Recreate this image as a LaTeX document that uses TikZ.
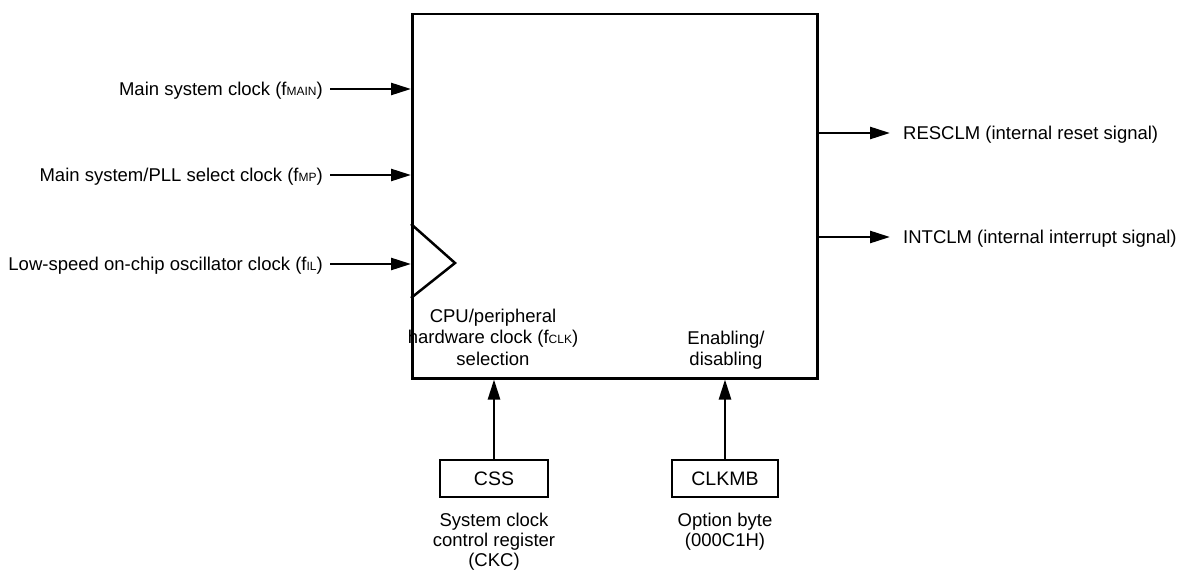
\documentclass[tikz,border=0pt]{standalone}
\usepackage{fontspec}
\setmainfont{Liberation Sans}
\usetikzlibrary{positioning,arrows.meta}
\newcommand{\sbs}[1]{{\fontsize{12}{12}\selectfont #1}}
\tikzset{
    every edge/.style={draw,-{Triangle[length=20pt,width=12pt]},line width=2.5pt},
    block/.style={draw,line width=2.5pt,minimum width=405pt,minimum height=364pt,inner sep=0pt},
    reg/.style={draw,line width=2.5pt,minimum height=37pt,inner sep=0pt,font=\fontsize{19.5}{21}\selectfont},
    sig/.style={inner ysep=0pt,text height=13pt,text depth=0pt,font=\fontsize{18.5}{21.5}\selectfont},
    note/.style={inner sep=0pt,align=center,font=\fontsize{18.5}{21.5}\selectfont},
}

\begin{document}
\begin{tikzpicture}[x=1pt,y=-1pt]
    \useasboundingbox (0,0) rectangle (1180,572);
    \node[block,anchor=north west] (clm) at (411,13) {};

    % inputs
    \node[sig,inner xsep=7pt,anchor=east] (fmain) at (330,89) {Main system clock (f\sbs{MAIN})};
    \node[sig,inner xsep=7pt,anchor=east] (fmp) at (330,175) {Main system/PLL select clock (f\sbs{MP})};
    \node[sig,inner xsep=7pt,anchor=east] (fil) at (330,264) {Low-speed on-chip oscillator clock (f\sbs{IL})};
    \draw[line width=2.5pt] (411,224) -- (455,263) -- (411,298);

    % outputs
    \node[sig,inner xsep=13pt,anchor=west] (rst) at (890,133) {RESCLM (internal reset signal)};
    \node[sig,inner xsep=13pt,anchor=west] (intp) at (890,237) {INTCLM (internal interrupt signal)};

    \node[note] (cksel) at (493,337) {CPU/peripheral\\hardware clock (f\sbs{CLK})\\selection};
    \node[note] (endis) at (726,350) {Enabling/\\disabling};

    % registers
    \node[reg,minimum width=108pt] (css) at (494,478.5) {CSS};
    \node[reg,minimum width=106pt] (clkmb) at (725,478.5) {CLKMB};
    \node[note,below=15pt of css,font=\fontsize{18.5}{20}\selectfont] (ckc) {System clock\\control register\\(CKC)};
    \node[note,below=15pt of clkmb,font=\fontsize{18.5}{20}\selectfont] (optb) {Option byte\\(000C1H)};

    \path
    (fmain) edge (fmain -| clm.west)
    (fmp) edge (fmp -| clm.west)
    (fil) edge (fil -| clm.west)
    (rst -| clm.east) edge (rst)
    (intp -| clm.east) edge (intp)
    (css) edge (css |- clm.south)
    (clkmb) edge (clkmb |- clm.south);
\end{tikzpicture}
\end{document}
